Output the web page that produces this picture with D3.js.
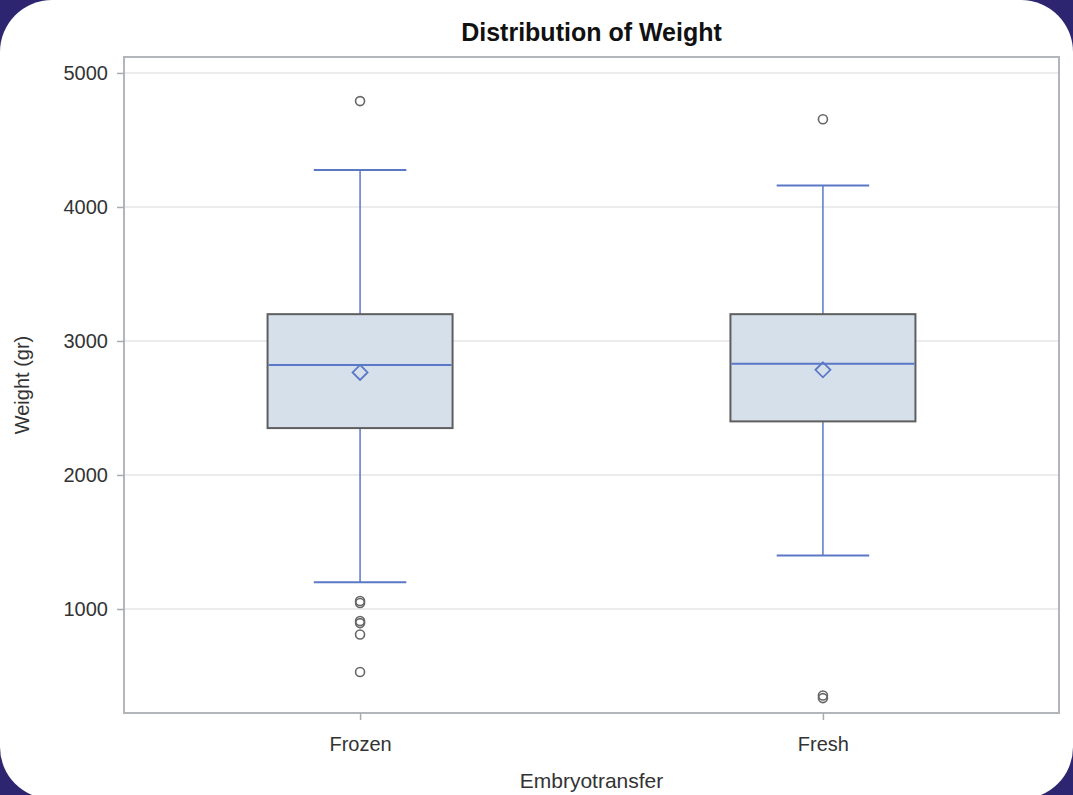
<!DOCTYPE html>
<html>
<head>
<meta charset="utf-8">
<script src="https://cdn.jsdelivr.net/npm/d3@7"></script>
<style>
  html, body { margin: 0; padding: 0; background: #2d2570; }
  svg { display: block; }
</style>
</head>
<body>
<script>
// ---- data ----
const categories = ["Frozen", "Fresh"];
const q1 = [2350, 2400];
const median = [2820, 2830];
const q3 = [3200, 3200];
const mean = [2765, 2785];
const whiskerLow = [1200, 1400];
const whiskerHigh = [4275, 4160];
const outliersFrozen = [4790, 1060, 1045, 910, 895, 810, 530];
const outliersFresh = [4655, 355, 335];
const yTicks = [1000, 2000, 3000, 4000, 5000];
const title = "Distribution of Weight";
const xLabel = "Embryotransfer";
const yLabel = "Weight (gr)";

const outliers = [outliersFrozen, outliersFresh];

const W = 1073, H = 795;
const svg = d3.select("body").append("svg").attr("width", W).attr("height", H);

// white card with rounded corners
svg.append("rect").attr("x", 0).attr("y", 0).attr("width", W).attr("height", H + 4)
  .attr("rx", 52).attr("ry", 52).attr("fill", "#ffffff");

const pL = 124, pR = 1059, pT = 57, pB = 713;
const font = "'Liberation Sans', Arial, sans-serif";

const y = d3.scaleLinear().domain([224, 5119]).range([pB, pT]);
const x = d3.scalePoint().domain(categories).range([pL, pR]).padding(0.51);
const boxW = 185;

// grid
svg.append("g").selectAll("line").data(yTicks).join("line")
  .attr("x1", pL).attr("x2", pR)
  .attr("y1", d => y(d)).attr("y2", d => y(d))
  .attr("stroke", "#e4e6e8").attr("stroke-width", 1.5);

// boxes
const g = svg.append("g");
categories.forEach((c, i) => {
  const cx = x(c);
  const blue = "#5a78c6";
  g.append("line").attr("x1", cx).attr("x2", cx).attr("y1", y(q3[i])).attr("y2", y(whiskerHigh[i]))
    .attr("stroke", blue).attr("stroke-width", 1.5);
  g.append("line").attr("x1", cx).attr("x2", cx).attr("y1", y(q1[i])).attr("y2", y(whiskerLow[i]))
    .attr("stroke", blue).attr("stroke-width", 1.5);
  [whiskerHigh[i], whiskerLow[i]].forEach(v => {
    g.append("line").attr("x1", cx - boxW / 4).attr("x2", cx + boxW / 4)
      .attr("y1", y(v)).attr("y2", y(v)).attr("stroke", blue).attr("stroke-width", 2);
  });
  g.append("rect").attr("x", cx - boxW / 2).attr("width", boxW)
    .attr("y", y(q3[i])).attr("height", y(q1[i]) - y(q3[i]))
    .attr("fill", "#d6e0eb").attr("stroke", "#5e5e5e").attr("stroke-width", 2);
  g.append("line").attr("x1", cx - boxW / 2 + 1).attr("x2", cx + boxW / 2 - 1)
    .attr("y1", y(median[i])).attr("y2", y(median[i])).attr("stroke", blue).attr("stroke-width", 2);
  const my = y(mean[i]), s = 7.5;
  g.append("path").attr("d", `M${cx},${my - s}L${cx + s},${my}L${cx},${my + s}L${cx - s},${my}Z`)
    .attr("fill", "none").attr("stroke", blue).attr("stroke-width", 1.8);
  g.selectAll(null).data(outliers[i]).join("circle")
    .attr("cx", cx).attr("cy", d => y(d)).attr("r", 4.5)
    .attr("fill", "none").attr("stroke", "#666").attr("stroke-width", 1.6);
});

// frame
svg.append("rect").attr("x", pL).attr("y", pT).attr("width", pR - pL).attr("height", pB - pT)
  .attr("fill", "none").attr("stroke", "#b2b6ba").attr("stroke-width", 2);

// y axis
const ya = svg.append("g").attr("transform", `translate(${pL},0)`)
  .call(d3.axisLeft(y).tickValues(yTicks).tickSize(7).tickPadding(9).tickFormat(d3.format("d")));
ya.select(".domain").remove();
ya.selectAll("line").attr("stroke", "#a8acb0").attr("stroke-width", 1.5);
ya.selectAll("text").attr("font-family", font).attr("font-size", 20).attr("fill", "#333");

// x axis
const xa = svg.append("g").attr("transform", `translate(0,${pB})`)
  .call(d3.axisBottom(x).tickSize(7).tickPadding(17));
xa.select(".domain").remove();
xa.selectAll("line").attr("stroke", "#a8acb0").attr("stroke-width", 1.5);
xa.selectAll("text").attr("font-family", font).attr("font-size", 20).attr("fill", "#333");

// labels
svg.append("text").attr("x", (pL + pR) / 2).attr("y", 41).attr("text-anchor", "middle")
  .attr("font-family", font).attr("font-weight", "bold").attr("font-size", 25).attr("fill", "#111")
  .text(title);
svg.append("text").attr("x", (pL + pR) / 2).attr("y", 788).attr("text-anchor", "middle")
  .attr("font-family", font).attr("font-size", 21).attr("fill", "#333").text(xLabel);
svg.append("text").attr("transform", `translate(29,${(pT + pB) / 2}) rotate(-90)`)
  .attr("text-anchor", "middle")
  .attr("font-family", font).attr("font-size", 20).attr("fill", "#333").text(yLabel);
</script>
</body>
</html>
